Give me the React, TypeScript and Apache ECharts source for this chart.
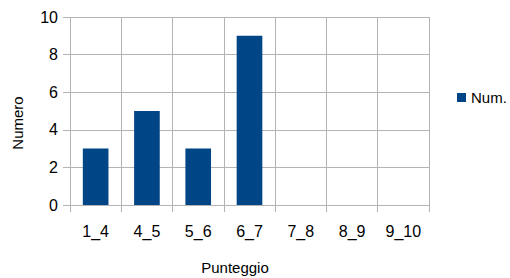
import React, { useEffect, useRef } from "react";
import * as echarts from "echarts";

const categories = ["1_4", "4_5", "5_6", "6_7", "7_8", "8_9", "9_10"];
const values = [3, 5, 3, 9, 0, 0, 0];
const seriesName = "Num.";
const xTitle = "Punteggio";
const yTitle = "Numero";

export default function App() {
  const ref = useRef<HTMLDivElement>(null);
  useEffect(() => {
    const chart = echarts.init(ref.current!, null, { renderer: "svg" });
    const font = "Liberation Sans, Arial, sans-serif";
    chart.setOption({
      animation: false,
      backgroundColor: "#ffffff",
      grid: { left: 70, right: 81, top: 17, bottom: 73 },
      legend: {
        data: [seriesName],
        left: 452,
        top: 85,
        orient: "vertical",
        itemWidth: 9,
        itemHeight: 9,
        icon: "rect",
        textStyle: { fontFamily: font, fontSize: 15, color: "#000" },
      },
      xAxis: {
        type: "category",
        data: categories,
        axisLine: { lineStyle: { color: "#b3b3b3", width: 1 } },
        axisTick: { show: true, length: 7, lineStyle: { color: "#b3b3b3" } },
        axisLabel: { fontFamily: font, fontSize: 16, color: "#000", margin: 18 },
        splitLine: { show: true, lineStyle: { color: "#b3b3b3" } },
      },
      yAxis: {
        type: "value",
        min: 0,
        max: 10,
        interval: 2,
        axisLine: { show: false },
        axisTick: { show: true, length: 7, lineStyle: { color: "#b3b3b3" } },
        axisLabel: { fontFamily: font, fontSize: 16, color: "#000", margin: 12 },
        splitLine: { show: true, lineStyle: { color: "#b3b3b3" } },
      },
      series: [
        {
          name: seriesName,
          type: "bar",
          data: values,
          barWidth: "50%",
          itemStyle: { color: "#004586" },
        },
      ],
      graphic: [
        {
          type: "text",
          x: 235,
          y: 267,
          style: {
            text: xTitle,
            fontFamily: font,
            fontSize: 15,
            fill: "#000",
            align: "center",
            verticalAlign: "middle",
          },
        },
        {
          type: "text",
          x: 17,
          y: 123,
          rotation: Math.PI / 2,
          style: {
            text: yTitle,
            fontFamily: font,
            fontSize: 15,
            fill: "#000",
            align: "center",
            verticalAlign: "middle",
          },
        },
      ],
    });
    return () => chart.dispose();
  }, []);
  return <div ref={ref} style={{ width: 510, height: 278, position: "absolute", left: 0, top: 0 }} />;
}
